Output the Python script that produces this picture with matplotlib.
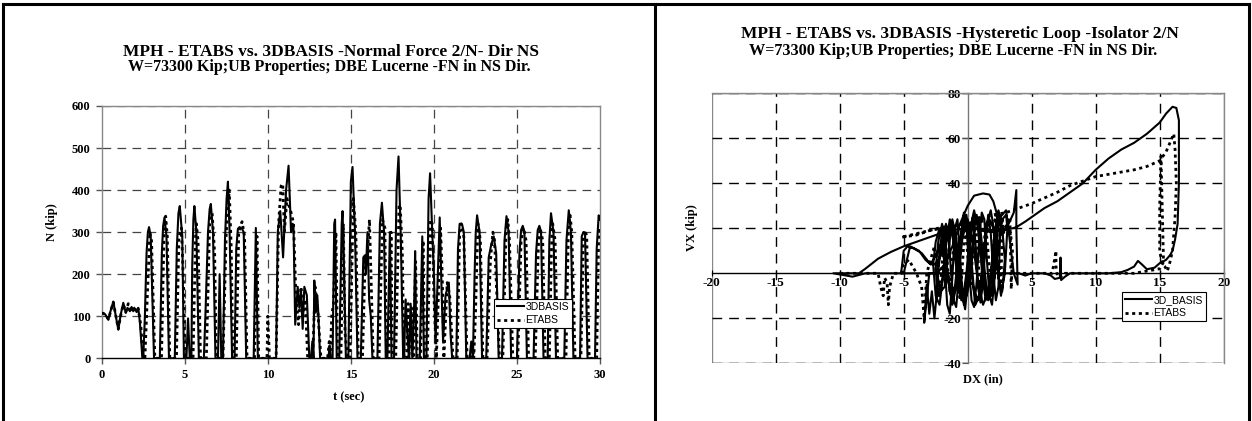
import numpy as np
import matplotlib
matplotlib.use("Agg")
import matplotlib.pyplot as plt
from matplotlib.lines import Line2D
from matplotlib.patches import Rectangle

# ---- normal force time history (t in sec, N in kip) ----
t_3dbasis = [0.0, 0.2, 0.4, 0.55, 0.7, 0.85, 1.0, 1.15, 1.3, 1.45, 1.55, 1.7, 1.8, 1.9, 2.0, 2.1, 2.2, 2.3, 2.45, 2.5,
             2.6, 2.7, 2.78, 2.85, 2.95, 3.15, 3.5, 3.62, 3.7, 3.78, 3.9, 4.05, 4.4, 4.52, 4.62, 4.7, 4.85, 4.95, 5.1,
             5.2, 5.3, 5.4, 5.45, 5.52, 5.58, 5.7, 5.85, 6.15, 6.25, 6.4, 6.5, 6.57, 6.7, 6.85, 7.0, 7.1, 7.2, 7.3,
             7.42, 7.52, 7.6, 7.7, 7.85, 8.0, 8.1, 8.2, 8.3, 8.45, 8.55, 8.7, 9.15, 9.28, 9.4, 10.5, 10.6, 10.75,
             10.92, 11.1, 11.25, 11.4, 11.5, 11.55, 11.65, 11.8, 11.9, 12.0, 12.1, 12.2, 12.35, 12.5, 12.6, 12.68,
             12.75, 12.8, 12.9, 12.98, 13.05, 13.15, 13.65, 13.72, 13.78, 13.9, 14.0, 14.05, 14.15, 14.3, 14.45,
             14.5, 14.6, 14.7, 14.85, 15.0, 15.1, 15.25, 15.4, 15.6, 15.75, 15.85, 15.9, 16.0, 16.1, 16.2, 16.3,
             16.6, 16.75, 16.87, 17.0, 17.1, 17.2, 17.35, 17.45, 17.6, 17.75, 17.87, 18.0, 18.15, 18.2, 18.3, 18.4,
             18.5, 18.6, 18.7, 18.8, 18.87, 18.95, 19.15, 19.3, 19.4, 19.55, 19.68, 19.77, 19.9, 20.0, 20.1, 20.35,
             20.45, 20.55, 20.7, 20.9, 21.0, 21.1, 21.35, 21.45, 21.55, 21.7, 21.8, 21.95, 22.15, 22.25, 22.35,
             22.45, 22.52, 22.6, 22.75, 22.9, 23.15, 23.3, 23.45, 23.6, 23.75, 23.9, 24.1, 24.25, 24.37, 24.5,
             24.65, 25.0, 25.15, 25.25, 25.35, 25.45, 25.6, 26.0, 26.15, 26.25, 26.35, 26.45, 26.6, 26.85, 26.95,
             27.05, 27.2, 27.35, 27.85, 27.98, 28.12, 28.25, 28.4, 28.8, 28.9, 29.0, 29.1, 29.25, 29.7, 29.8,
             29.92, 30.0]
n_3dbasis = [108, 105, 92, 115, 135, 100, 68, 105, 132, 108, 120, 112, 122, 112, 118, 110, 120, 85, 0, 0,
             100, 250, 300, 312, 290, 0, 0, 250, 315, 335, 290, 0, 0, 260, 345, 362, 290, 0, 0,
             95, 0, 0, 220, 330, 362, 300, 0, 0, 110, 300, 355, 367, 300, 0, 0, 200, 0, 0,
             280, 380, 420, 300, 0, 0, 260, 308, 312, 308, 300, 0, 0, 310, 0, 0, 300, 350,
             240, 400, 458, 300, 320, 310, 80, 170, 120, 160, 70, 170, 150, 0, 0, 40,
             0, 185, 110, 150, 100, 0, 0, 30, 0, 0, 320, 330, 0, 0, 320,
             350, 200, 0, 0, 420, 455, 300, 0, 0, 240, 245, 200, 300, 140, 100, 0,
             0, 320, 370, 300, 0, 0, 300, 0, 0, 400, 480, 300, 0, 0, 140, 60,
             0, 130, 0, 100, 255, 0, 0, 290, 0, 0, 380, 440, 300, 200, 40, 335,
             180, 40, 150, 180, 60, 0, 0, 260, 320, 318, 300, 0, 0, 40, 0,
             200, 300, 340, 300, 0, 0, 240, 270, 290, 250, 0, 0, 280, 338, 300,
             0, 0, 250, 305, 315, 300, 0, 0, 250, 305, 315, 300, 0, 0, 280,
             345, 300, 0, 0, 280, 352, 300, 0, 0, 290, 300, 295, 0, 0, 260,
             340, 330]

t_etabs = [0.0, 0.2, 0.4, 0.55, 0.7, 0.85, 1.0, 1.15, 1.3, 1.45, 1.6, 1.75, 1.9, 2.05, 2.2, 2.35, 2.5, 2.6, 2.75, 2.9,
           3.0, 3.2, 3.6, 3.75, 3.85, 3.95, 4.1, 4.5, 4.65, 4.8, 4.95, 5.0, 5.5, 5.65, 5.7, 5.8, 5.95, 6.3, 6.5, 6.65,
           6.8, 6.9, 7.3, 7.5, 7.68, 7.8, 7.9, 8.1, 8.25, 8.45, 8.6, 8.75, 9.2, 9.35, 9.45, 9.95, 10.0, 10.1, 10.5,
           10.65, 10.8, 10.9, 11.0, 11.15, 11.3, 11.45, 11.55, 11.7, 11.85, 12.0, 12.1, 12.25, 12.4, 12.7, 12.85,
           13.0, 13.1, 13.2, 13.6, 13.7, 13.75, 13.85, 13.95, 14.1, 14.2, 14.4, 14.55, 14.65, 14.8, 14.95, 15.15,
           15.3, 15.45, 15.7, 15.85, 16.0, 16.12, 16.25, 16.35, 16.7, 16.9, 17.05, 17.15, 17.3, 17.42, 17.5, 17.7,
           17.9, 17.97, 18.1, 18.2, 18.35, 18.45, 18.5, 18.65, 18.75, 18.9, 19.0, 19.2, 19.35, 19.45, 19.6, 19.8,
           19.9, 20.0, 20.15, 20.4, 20.5, 20.6, 20.8, 20.95, 21.15, 21.4, 21.55, 21.65, 21.8, 22.0, 22.2, 22.3,
           22.4, 22.5, 22.65, 22.8, 22.95, 23.2, 23.4, 23.55, 23.65, 23.95, 24.15, 24.35, 24.45, 24.55, 24.75,
           25.05, 25.25, 25.4, 25.55, 25.7, 26.1, 26.3, 26.4, 26.55, 26.7, 26.95, 27.1, 27.15, 27.3, 27.45, 27.95,
           28.1, 28.2, 28.3, 28.5, 28.85, 29.0, 29.1, 29.2, 29.35, 29.8, 29.92, 30.0]
n_etabs = [108, 105, 93, 113, 133, 102, 70, 103, 128, 110, 130, 115, 122, 112, 118, 80, 0, 0, 150, 300,
           280, 0, 0, 290, 338, 290, 0, 0, 290, 310, 150, 0, 0, 290, 320, 280, 0, 0, 320, 345,
           250, 0, 0, 300, 400, 260, 0, 0, 300, 325, 290, 0, 0, 290, 0, 0, 100, 0, 0,
           320, 410, 415, 300, 380, 360, 340, 320, 140, 80, 170, 100, 140, 0, 0, 170,
           120, 60, 0, 0, 40, 0, 100, 130, 300, 0, 0, 320, 60, 0, 0, 380,
           300, 0, 0, 220, 250, 330, 140, 0, 0, 330, 310, 0, 0, 300, 0, 0,
           360, 365, 250, 0, 0, 130, 0, 120, 0, 230, 0, 0, 280, 0, 0, 330,
           320, 150, 0, 310, 200, 0, 180, 150, 0, 0, 300, 320, 290, 0, 0, 40,
           0, 100, 320, 280, 0, 0, 230, 300, 280, 0, 0, 310, 330, 280, 0,
           0, 280, 310, 280, 0, 0, 280, 310, 280, 0, 0, 300, 320, 280, 0, 0,
           310, 340, 300, 0, 0, 290, 305, 290, 0, 0, 300, 310]

# ---- hysteretic loop (DX in inch, VX in kip) ----
dx_3dbasis = [0, -2, -4, -6, -8, -9, -9.5, -10.5, -9.5, -8.5, -8, -7, -6, -5, -4, -3, -2, -1, 0, 1, 2, 3, 3.6,
              3.8, 3.8, 3.9, 3.6, 3.0, 2.4, 2.0, 1.7, 1.2, 0.5, 0.0, -0.6, -1.2, -1.8, -2.4, -3.0, -3.4, -3.2,
              -3.0, -2.8, -2.6, -2.4, -2.2, -2.0, -1.8, -1.6, -1.4, -1.2, -1.0, -0.8, -0.6, -0.4, -0.2, 0, 0.2,
              0.4, 0.6, 0.8, 1.0, 1.2, 1.4, 1.6, 1.8, 2.0, 2.2, 2.4, 2.5, 2.6, 2.4, 2.0, 1.7, 1.4, 1.1, 0.8, 0.5,
              0.2, -0.1, -0.4, -0.7, -1.0, -1.3, -1.6, -1.9, -2.2, -2.5, -2.7, -2.5, -2.2, -1.9, -1.6, -1.3,
              -1.0, -0.7, -0.4, -0.1, 0.2, 0.5, 0.8, 1.1, 1.4, 1.7, 2.0, 2.3, 2.6, 2.9, 3.1, 3.0, 2.7, 2.3, 1.9,
              1.5, 1.2, 0.9, 0.6, 0.3, 0, -0.3, -0.6, -0.9, -1.2, -1.5, -1.8, -2.1, -2.4,
              -2.0, -1.7, -1.5, -1.3, -1.1, -0.9, -0.7, -0.5, -0.3, -0.1, 0.1, 0.3, 0.5, 0.7, 0.9, 1.1, 1.3,
              1.5, 1.7, 1.9, 2.1, 2.3, 2.5, 2.3, 2.1, 1.9, 1.6, 1.3, 1.0, 0.7, 0.4, 0.1, -0.2, -0.5, -0.8,
              -1.1, -1.4, -1.7, -2.0, -2.3, -2.5, -2.3, -2.0, -1.8, -1.5, -1.2, -0.9, -0.6, -0.3, 0.0, 0.3,
              0.6, 0.9, 1.2, 1.5, 1.8, 2.1, 2.4, 2.7, 2.9, 2.7, 2.4, 2.0, 1.6, 1.2, 0.8, 0.4, 0.0, -0.4, -0.8,
              -1.2, -1.6, -2.0, -2.4,
              -2.9, -3.6, -4.2, -4.7, -5.0, -5.2, -5.0, -4.5, -3.8, -3.3, -2.9, -2.5, -2.0, -1.5, -1.0, -0.5,
              0, 0.5, 1.0, 1.5, 2.0, 2.5, 3.0, 3.5, 3.8, 4.5, 5.0, 6.0, 7.0, 8.0, 9.0, 10.0, 11.0, 12.0, 13.0,
              14.0, 15.0, 15.5, 16.0, 16.3, 16.5, 16.5, 16.4, 16.2, 16.0, 15.8, 15.5, 15.2, 15.0, 14.6, 14.0,
              13.6, 13.3, 13.0, 12.5, 12.0, 11.0, 10.0, 9.0, 8.0, 7.6, 7.3, 7.25, 7.2, 6.8, 6.5, 6.0, 5.0, 4.5,
              4.0, 3.0, 2.0]
vx_3dbasis = [0, 0, 0, 0, 0, -1.5, -1, 0, 0, 0, 2, 6.5, 9.5, 12, 14, 16, 18, 19.5, 20, 19.5, 19, 19.5, 27,
              37, 20, -5, 0, 28, 24, 32, 35, 35.5, 34.5, 30, 22, 12, 4, 0, 0, -22, -5,
              -18, -8, -20, -8, 10, 18, 4, -14, -18, -2, 20, 24, 8, -10, -16, -4, 16,
              25, 14, -6, -13, -4, 14, 26, 18, 0, -12, -6, 12, 24, 28, 12, -8, -12, 2, 20, 28,
              20, 0, -12, -8, 8, 22, 20, 0, -14, -10, 4, 14, 20, 16, 0, -10,
              -6, 10, 22, 26, 12, -8, -12, -2, 18, 24, 20, 4, -10, 0, 20, 26, 24, 8, -10,
              -8, 8, 25, 24, 6, -8, -14, 0, 16, 24, 10, -6, -8, 0,
              12, 22, 18, 0, -12, -15, -2, 18, 27, 22, 2, -12, -15, -4, 16, 27, 24,
              6, -10, -14, -2, 16, 26, 26, 10, -6, -12, -4, 14, 26, 24, 6, -10, -12, 2,
              18, 24, 12, -4, -10, 2, 14, 22, 14, -4, -14, -6, 12, 24, 20, 0,
              -14, -10, 6, 22, 28, 18, -2, -8, 6, 20, 24, 8, -8, -14, -4, 14, 24, 16, -4,
              -10, 0, 10, 4,
              4, 9, 11, 12, 10, 0, 0, 12, 10, 6, 4, 8, 14, 19, 21, 21.5,
              21, 20, 19, 18.5, 18.5, 19, 19.5, 20, 20.5, 23, 25, 29, 32, 36, 40, 46, 51, 55, 58,
              62, 67, 71, 74, 73.5, 68, 40, 22, 15, 10, 8, 6, 5, 4.5, 2.5, 1.8,
              4, 5.5, 3, 1.5, 0.5, 0, 0, 0, 0, -1.5, -3, 7, -2, -2.5, -1, 0, 0, -1,
              0, 0, 0]

dx_etabs = [-10, -8, -7.0, -6.8, -6.6, -6.5, -6.3, -6.2, -6.1, -5.8, -5.5, -5.2, -5.0, -4.6, -4.0, -3.6, -3.4,
            -3.3, -3.2, -3.0, -2.6, -2.2, -1.8, -1.4, -1.0, -0.6, -0.2, 0.2, 0.6, 1.0, 1.4, 1.8, 2.2, 2.6, 2.7,
            2.8, 3.3, 3.4, 3.5, 3.3, 2.0, 0, -2.0, -3.0, -4.0, -5.2, -3.0, -2.0, -1.0, 0, 1.0, 2.0, 3.0, 4.0,
            5.0, 6.0, 7.0, 8.0, 9.0, 10.0, 11.0, 12.0, 13.0, 14.0, 15.0, 15.5, 15.8, 16.1, 16.2, 16.3, 16.2,
            16.0, 15.8, 15.6, 15.4, 15.2, 15.0, 15.0, 15.1, 15.3, 15.0, 13.0, 11.0, 9.0, 7.6, 7.2, 7.0, 6.9,
            6.9, 6.6, 6.0, 5.0, 4.0]
vx_etabs = [0, 0, 0, -6, -10, -2, -4, -14, -6, 0, 0, 0, 4, 6, 0, -6, -20,
            -10, 0, 4, 12, -10, 18, -8, 20, -12, 22, -6, 24, -10, 22, -4, 26, -8, 25,
            18, 25, -7, 10, 20, 24, 22, 20, 19, 17, 16, 19, 20.5, 21, 22, 24, 26, 27, 29,
            31, 33.5, 36, 39, 41, 43, 44, 45, 46, 47.5, 50, 54, 58, 62, 55, 40, 25,
            10, 5, 1, 3, 4, 10, 30, 52, 5, 2, 0, 0, 0, 0, -2, -1, 3,
            10, 0, 0, 0, 0]

t_ticks = [0, 5, 10, 15, 20, 25, 30]
n_ticks = [0, 100, 200, 300, 400, 500, 600]
dx_ticks = [-20, -15, -10, -5, 0, 5, 10, 15, 20]
vx_ticks = [-40, -20, 0, 20, 40, 60, 80]

plt.rcParams.update({
    "font.family": "Liberation Serif",
    "font.weight": "bold",
    "axes.linewidth": 1.0,
})

W, H = 1252, 421
fig = plt.figure(figsize=(W / 100, H / 100), dpi=100)

GRID = dict(color="#444444", lw=0.9, ls=(0, (7, 5)))
SOLID = dict(color="black", lw=1.5, ls="-")
DOTTED = dict(color="black", lw=2.0, ls=(0, (1.1, 1.3)))

def fx(px):
    return px / W

def fy(py):
    return 1 - py / H

LEG = dict(prop=dict(family="Liberation Sans", size=7.5, weight="normal"),
           handlelength=2.6, handletextpad=0.1, borderpad=0.3, labelspacing=0.3,
           fancybox=False, framealpha=1, edgecolor="black", borderaxespad=0)

# ---------- left: normal force ----------
ax1 = fig.add_axes([fx(101.7), fy(358.3), fx(600 - 101.7), (358.3 - 106) / H])
ax1.plot(t_3dbasis, n_3dbasis, label="3DBASIS", zorder=3, **SOLID)
ax1.plot(t_etabs, n_etabs, label="ETABS", zorder=3, **DOTTED)
ax1.set_xlim(0, 30)
ax1.set_ylim(0, 600)
ax1.set_xticks(t_ticks)
ax1.set_yticks(n_ticks)
ax1.tick_params(labelsize=9, length=4, width=1, color="#555555", pad=4)
for t in t_ticks[1:-1]:
    ax1.axvline(t, zorder=1, **GRID)
for n in n_ticks[1:]:
    ax1.axhline(n, zorder=1, **GRID)
for s in ["top", "right", "left"]:
    ax1.spines[s].set_color("#888888")
ax1.spines["bottom"].set_color("black")
leg1 = ax1.legend(loc="upper left", bbox_to_anchor=(fx(494), fy(299)), bbox_transform=fig.transFigure, **LEG)
leg1.get_frame().set_linewidth(0.8)

fig.text(fx(331), fy(52), "MPH - ETABS vs. 3DBASIS -Normal Force 2/N- Dir NS",
         ha="center", va="center", fontsize=12.5)
fig.text(fx(329), fy(67), "W=73300 Kip;UB Properties; DBE Lucerne -FN in NS Dir.",
         ha="center", va="center", fontsize=11.5)
fig.text(fx(52), fy(222), "N (kip)", rotation=90, ha="center", va="center", fontsize=9)
fig.text(fx(349), fy(397), "t (sec)", ha="center", va="center", fontsize=9)

# ---------- right: hysteretic loop ----------
ax2 = fig.add_axes([fx(711.7), fy(363.3), fx(1223.7 - 711.7), 270 / H])
ax2.plot(dx_3dbasis, vx_3dbasis, label="3D_BASIS", zorder=3, **SOLID)
ax2.plot(dx_etabs, vx_etabs, label="ETABS", zorder=3, **DOTTED)
ax2.set_xlim(-20, 20)
ax2.set_ylim(-40, 80)
for d in dx_ticks[1:-1]:
    if d != 0:
        ax2.axvline(d, zorder=1, color="black", lw=1.0, ls=(0, (7, 5)))
for v in vx_ticks:
    if v != 0:
        ax2.axhline(v, zorder=1, color="black", lw=1.0, ls=(0, (7, 5)))
ax2.spines["left"].set_position(("data", 0))
ax2.spines["bottom"].set_position(("data", 0))
ax2.spines["left"].set_color("#777777")
ax2.spines["bottom"].set_color("black")
ax2.spines["bottom"].set_zorder(2)
for s in ["top", "right"]:
    ax2.spines[s].set_color("#888888")
ax2.add_patch(Rectangle((0, 0), 1, 1, transform=ax2.transAxes, fill=False,
                        edgecolor="#888888", lw=1.0, zorder=0))
ax2.set_xticks(dx_ticks)
ax2.set_xticklabels(["" if d == 0 else str(d) for d in dx_ticks])
ax2.set_yticks(vx_ticks)
ax2.set_yticklabels(["" if v == 0 else str(v) for v in vx_ticks])
ax2.tick_params(axis="x", labelsize=9.5, length=4, direction="inout", pad=1)
ax2.tick_params(axis="y", labelsize=9.5, length=4, direction="out", pad=1, color="#555555")
leg2 = ax2.legend(loc="upper left", bbox_to_anchor=(fx(1122), fy(292)), bbox_transform=fig.transFigure, **LEG)
leg2.get_frame().set_linewidth(0.8)

fig.text(fx(960), fy(34), "MPH - ETABS vs. 3DBASIS -Hysteretic Loop -Isolator 2/N",
         ha="center", va="center", fontsize=12.5)
fig.text(fx(953), fy(51), "W=73300 Kip;UB Properties; DBE Lucerne -FN in NS Dir.",
         ha="center", va="center", fontsize=11.7)
fig.text(fx(692), fy(228), "VX (kip)", rotation=90, ha="center", va="center", fontsize=9)
fig.text(fx(983), fy(379), "DX (in)", ha="center", va="center", fontsize=9)

# ---------- outer frames ----------
for xs, ys in [([fx(3), fx(3)], [0, fy(4)]), ([fx(3), fx(1249)], [fy(4), fy(4)]),
               ([fx(655), fx(655)], [0, fy(4)]), ([fx(1249), fx(1249)], [0, fy(4)])]:
    fig.add_artist(Line2D(xs, ys, color="black", lw=2.2, transform=fig.transFigure))

fig.savefig("out.png", dpi=100)
